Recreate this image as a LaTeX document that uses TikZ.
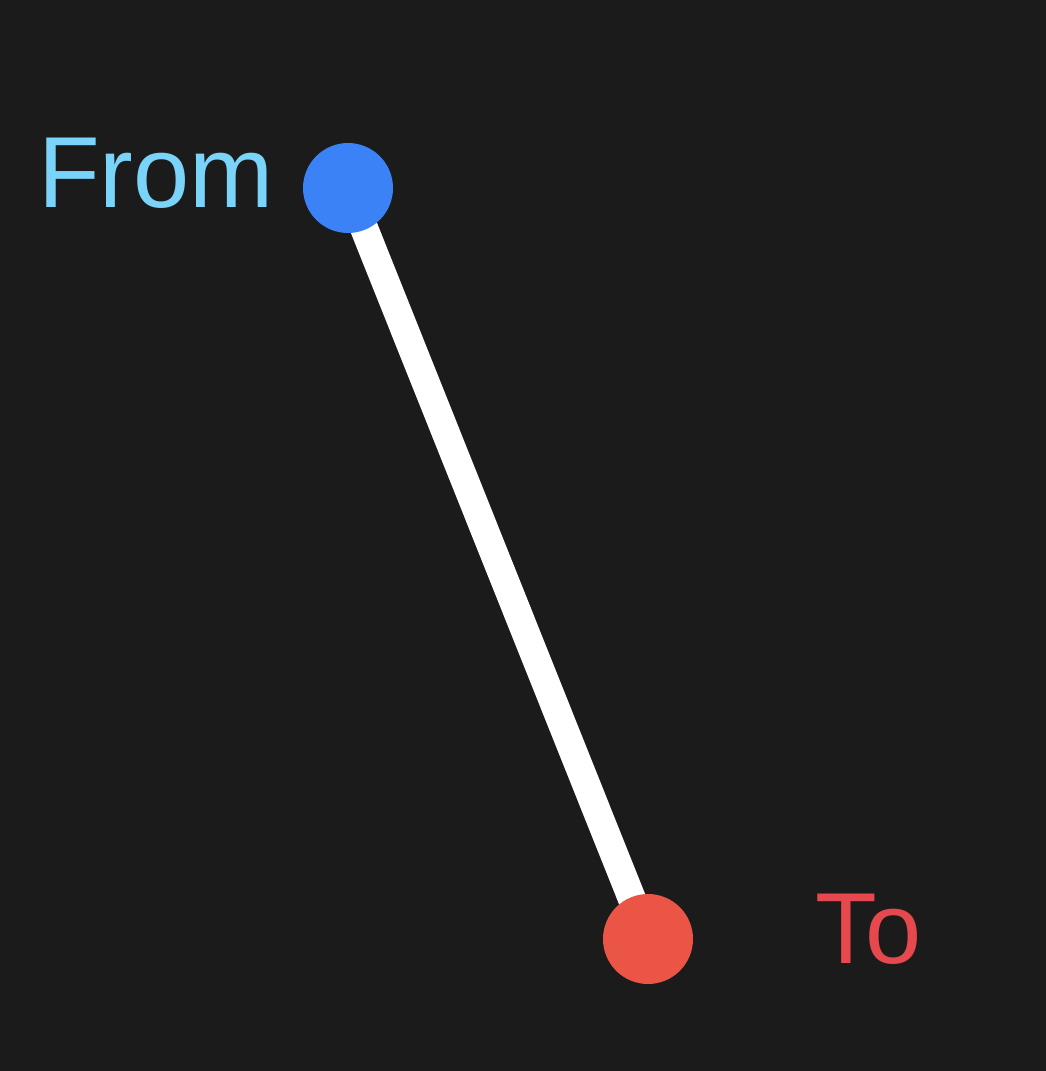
\documentclass[tikz,border=0pt]{standalone}
\usepackage{fontspec}
\setmainfont{Liberation Sans}
\definecolor{bg}{HTML}{1B1B1B}
\definecolor{fromblue}{HTML}{3B82F6}
\definecolor{tored}{HTML}{EB5545}
\definecolor{fromtext}{HTML}{7AD3F8}
\definecolor{totext}{HTML}{E5484D}
\begin{document}
\begin{tikzpicture}[x=1pt,y=-1pt,
  dot/.style={circle,minimum size=90pt,inner sep=0pt,fill=#1},
  lbl/.style={anchor=base west,inner sep=0pt,font=\fontsize{101}{110}\selectfont,text=#1},
  link/.style={draw=white,line width=28pt}]
\fill[bg] (0,0) rectangle (1046,1071);
\useasboundingbox (0,0) rectangle (1046,1071);
\coordinate (pa) at (348,188);
\coordinate (pb) at (648,939);
\draw[link] (pa) -- (pb);
\node[dot=fromblue] (from) at (pa) {};
\node[dot=tored] (to) at (pb) {};
\node[lbl=fromtext] (fromlbl) at (38,207) {From};
\node[lbl=totext] (tolbl) at (815,963) {To};
\end{tikzpicture}
\end{document}
